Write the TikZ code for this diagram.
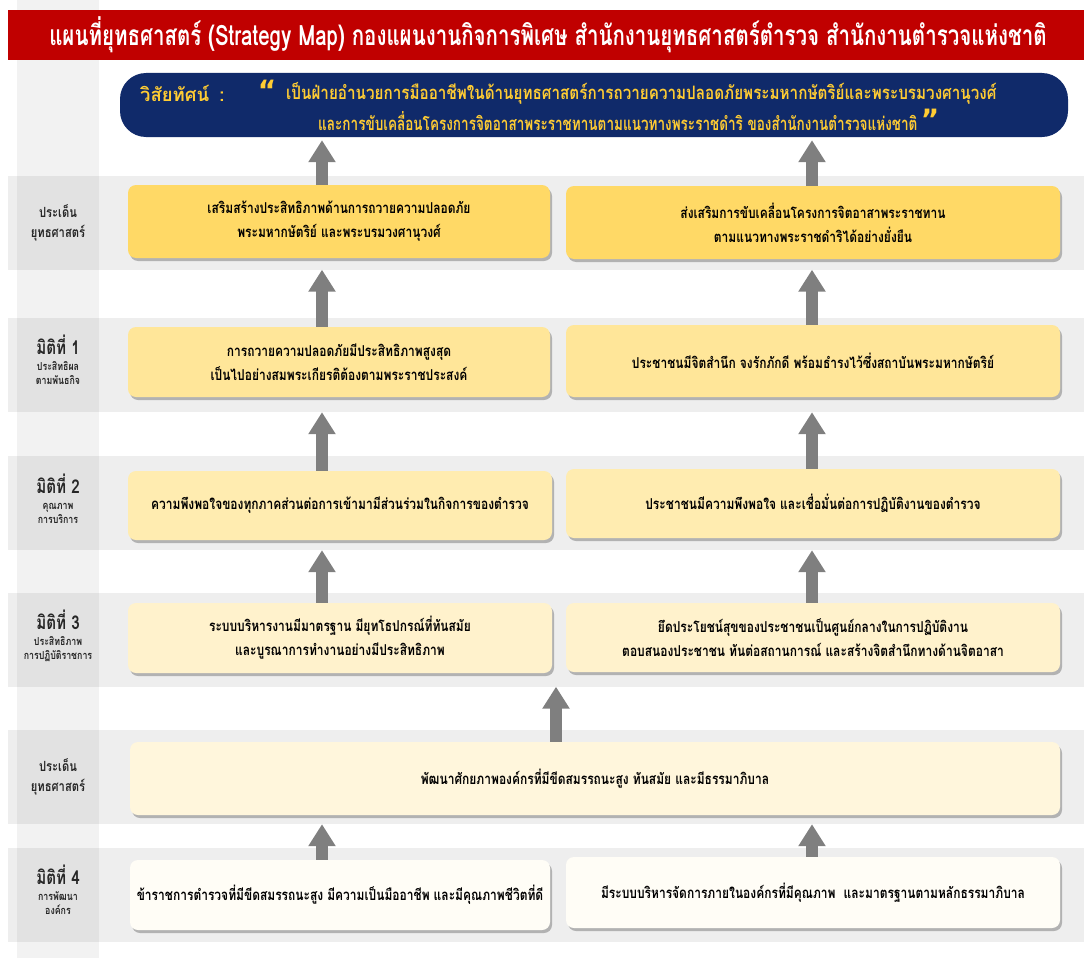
\documentclass[tikz,border=0pt]{standalone}
\usepackage{fontspec}
\usetikzlibrary{arrows.meta,shadows}
\newfontfamily\thai[Script=Thai,FakeStretch=0.8]{Loma}
\newfontfamily\qfont{DejaVu Sans}
\definecolor{titlered}{HTML}{C00000}
\definecolor{navy}{HTML}{102A6A}
\definecolor{vyellow}{HTML}{FFCC33}
\definecolor{cA}{HTML}{FFD966}
\definecolor{cB}{HTML}{FFE699}
\definecolor{cC}{HTML}{FFECB0}
\definecolor{cD}{HTML}{FFF2CC}
\definecolor{cE}{HTML}{FFF6DC}
\definecolor{cF}{HTML}{FFFDF6}
\definecolor{arrgray}{HTML}{7F7F7F}
\tikzset{
  band/.style={fill=black,fill opacity=0.065,inner sep=0pt,minimum width=1076pt,minimum height=94pt},
  box/.style={rounded corners=8pt,inner sep=2pt,align=center,text=black,
    font=\thai\bfseries\fontsize{15}{24}\selectfont,
    drop shadow={shadow xshift=2pt,shadow yshift=-3pt,fill=black!45,opacity=0.6}},
  lbl/.style={align=center,text=black!85,font=\thai\bfseries\fontsize{14}{20}\selectfont},
  arr/.style={draw=arrgray,line width=12pt,-{Triangle[length=22pt,width=26pt]}},
  vtext/.style={text=vyellow,font=\thai\bfseries\fontsize{18.5}{22}\selectfont,inner sep=0pt},
  vquote/.style={text=vyellow,font=\qfont\bfseries\fontsize{28}{28}\selectfont,inner sep=0pt},
}
\newcommand\bigt[1]{{\fontsize{19}{22}\selectfont #1}}
\newcommand\smallt[1]{{\fontsize{11}{14}\selectfont #1}}
\begin{document}
\begin{tikzpicture}[x=1pt,y=-1pt]
\useasboundingbox (0,0) rectangle (1084,958);
% bands
\node[band] (b1) at (546,222.5) {};
\node[band] (b2) at (546,365) {};
\node[band] (b3) at (546,503) {};
\node[band] (b4) at (546,639.5) {};
\node[band] (b5) at (546,777) {};
\node[band] (b6) at (546,894.5) {};
\fill[black,fill opacity=0.05] (17,0) rectangle (99,958);
% title
\fill[titlered] (8,10) rectangle (1084,60);
\node[font=\thai\bfseries\fontsize{26}{30}\selectfont,text=white] (title) at (548,35)
  {\scalebox{0.985}[1.08]{แผนที่ยุทธศาสตร์ (Strategy Map) กองแผนงานกิจการพิเศษ สำนักงานยุทธศาสตร์ตำรวจ สำนักงานตำรวจแห่งชาติ}};
% vision
\node[fill=navy,rounded corners=26pt,minimum width=948pt,minimum height=64pt,inner sep=0pt] (vis) at (594,105) {};
\node[vtext,anchor=west] (vlabel) at (140,93) {\scalebox{1.25}[1]{วิสัยทัศน์\hspace{8pt}:}};
\node[vquote] (q1) at (267,90) {“};
\node[vtext,anchor=west] (v1) at (286,93) {\scalebox{1.03}[1]{เป็นฝ่ายอำนวยการมืออาชีพในด้านยุทธศาสตร์การถวายความปลอดภัยพระมหากษัตริย์และพระบรมวงศานุวงศ์}};
\node[vtext,anchor=west] (v2) at (318,121) {\scalebox{0.915}[1]{และการขับเคลื่อนโครงการจิตอาสาพระราชทานตามแนวทางพระราชดำริ ของสำนักงานตำรวจแห่งชาติ}};
\node[vquote] (q2) at (930,119) {”};
% labels
\node[lbl] (L1) at (58,223) {ประเด็น\\ยุทธศาสตร์};
\node[lbl] (L2) at (58,360) {\bigt{มิติที่ 1}\\[-4pt]\smallt{ประสิทธิผล}\\[-6pt]\smallt{ตามพันธกิจ}};
\node[lbl] (L3) at (58,499) {\bigt{มิติที่ 2}\\[-4pt]\smallt{คุณภาพ}\\[-6pt]\smallt{การบริการ}};
\node[lbl] (L4) at (58,636) {\bigt{มิติที่ 3}\\[-4pt]\smallt{ประสิทธิภาพ}\\[-6pt]\smallt{การปฏิบัติราชการ}};
\node[lbl] (L5) at (58,777) {ประเด็น\\ยุทธศาสตร์};
\node[lbl] (L6) at (58,890) {\bigt{มิติที่ 4}\\[-4pt]\smallt{การพัฒนา}\\[-6pt]\smallt{องค์กร}};
% axis coordinates
\coordinate (axL) at (322,0);
\coordinate (axR) at (812,0);
\coordinate (axM) at (556,0);
% arrows
\draw[arr] (axL |- 0,186) -- ([yshift=-3pt]axL |- vis.south);
\draw[arr] (axR |- 0,186) -- ([yshift=-3pt]axR |- vis.south);
\draw[arr] (axL |- 0,327) -- (axL |- b1.south);
\draw[arr] (axR |- 0,326) -- (axR |- b1.south);
\draw[arr] (axL |- 0,471) -- (axL |- b2.south);
\draw[arr] (axR |- 0,469) -- (axR |- b2.south);
\draw[arr] (axL |- 0,603) -- (axL |- b3.south);
\draw[arr] (axR |- 0,603) -- (axR |- b3.south);
\draw[arr] (axM |- 0,742) -- (axM |- b4.south);
\draw[arr] (axL |- 0,860) -- (axL |- b5.south);
\draw[arr] (axR |- 0,857) -- (axR |- b5.south);
% boxes
\node[box,fill=cA,minimum width=422pt,minimum height=73pt] (r1l) at (339,221.5)
  {เสริมสร้างประสิทธิภาพด้านการถวายความปลอดภัย\\พระมหากษัตริย์ และพระบรมวงศานุวงศ์};
\node[box,fill=cA,minimum width=494pt,minimum height=73pt] (r1r) at (813,222.5)
  {ส่งเสริมการขับเคลื่อนโครงการจิตอาสาพระราชทาน\\ตามแนวทางพระราชดำริได้อย่างยั่งยืน};
\node[box,fill=cB,minimum width=422pt,minimum height=70pt] (r2l) at (339,362)
  {การถวายความปลอดภัยมีประสิทธิภาพสูงสุด\\เป็นไปอย่างสมพระเกียรติต้องตามพระราชประสงค์};
\node[box,fill=cB,minimum width=494pt,minimum height=72pt] (r2r) at (813,361)
  {ประชาชนมีจิตสำนึก จงรักภักดี พร้อมธำรงไว้ซึ่งสถาบันพระมหากษัตริย์};
\node[box,fill=cC,minimum width=424pt,minimum height=69pt] (r3l) at (340,505.5)
  {ความพึงพอใจของทุกภาคส่วนต่อการเข้ามามีส่วนร่วมในกิจการของตำรวจ};
\node[box,fill=cC,minimum width=494pt,minimum height=69pt] (r3r) at (813,503.5)
  {ประชาชนมีความพึงพอใจ และเชื่อมั่นต่อการปฏิบัติงานของตำรวจ};
\node[box,fill=cD,minimum width=424pt,minimum height=70pt] (r4l) at (340,638)
  {ระบบบริหารงานมีมาตรฐาน มียุทโธปกรณ์ที่ทันสมัย\\และบูรณาการทำงานอย่างมีประสิทธิภาพ};
\node[box,fill=cD,minimum width=494pt,minimum height=69pt] (r4r) at (813,637.5)
  {ยึดประโยชน์สุขของประชาชนเป็นศูนย์กลางในการปฏิบัติงาน\\ตอบสนองประชาชน ทันต่อสถานการณ์ และสร้างจิตสำนึกทางด้านจิตอาสา};
\node[box,fill=cE,minimum width=930pt,minimum height=73pt] (r5) at (595,778.5)
  {พัฒนาศักยภาพองค์กรที่มีขีดสมรรถนะสูง ทันสมัย และมีธรรมาภิบาล};
\node[box,fill=cF,minimum width=420pt,minimum height=70pt] (r6l) at (340,895)
  {ข้าราชการตำรวจที่มีขีดสมรรถนะสูง มีความเป็นมืออาชีพ และมีคุณภาพชีวิตที่ดี};
\node[box,fill=cF,minimum width=494pt,minimum height=71pt] (r6r) at (813,892.5)
  {มีระบบบริหารจัดการภายในองค์กรที่มีคุณภาพ\ \ และมาตรฐานตามหลักธรรมาภิบาล};
\end{tikzpicture}
\end{document}
